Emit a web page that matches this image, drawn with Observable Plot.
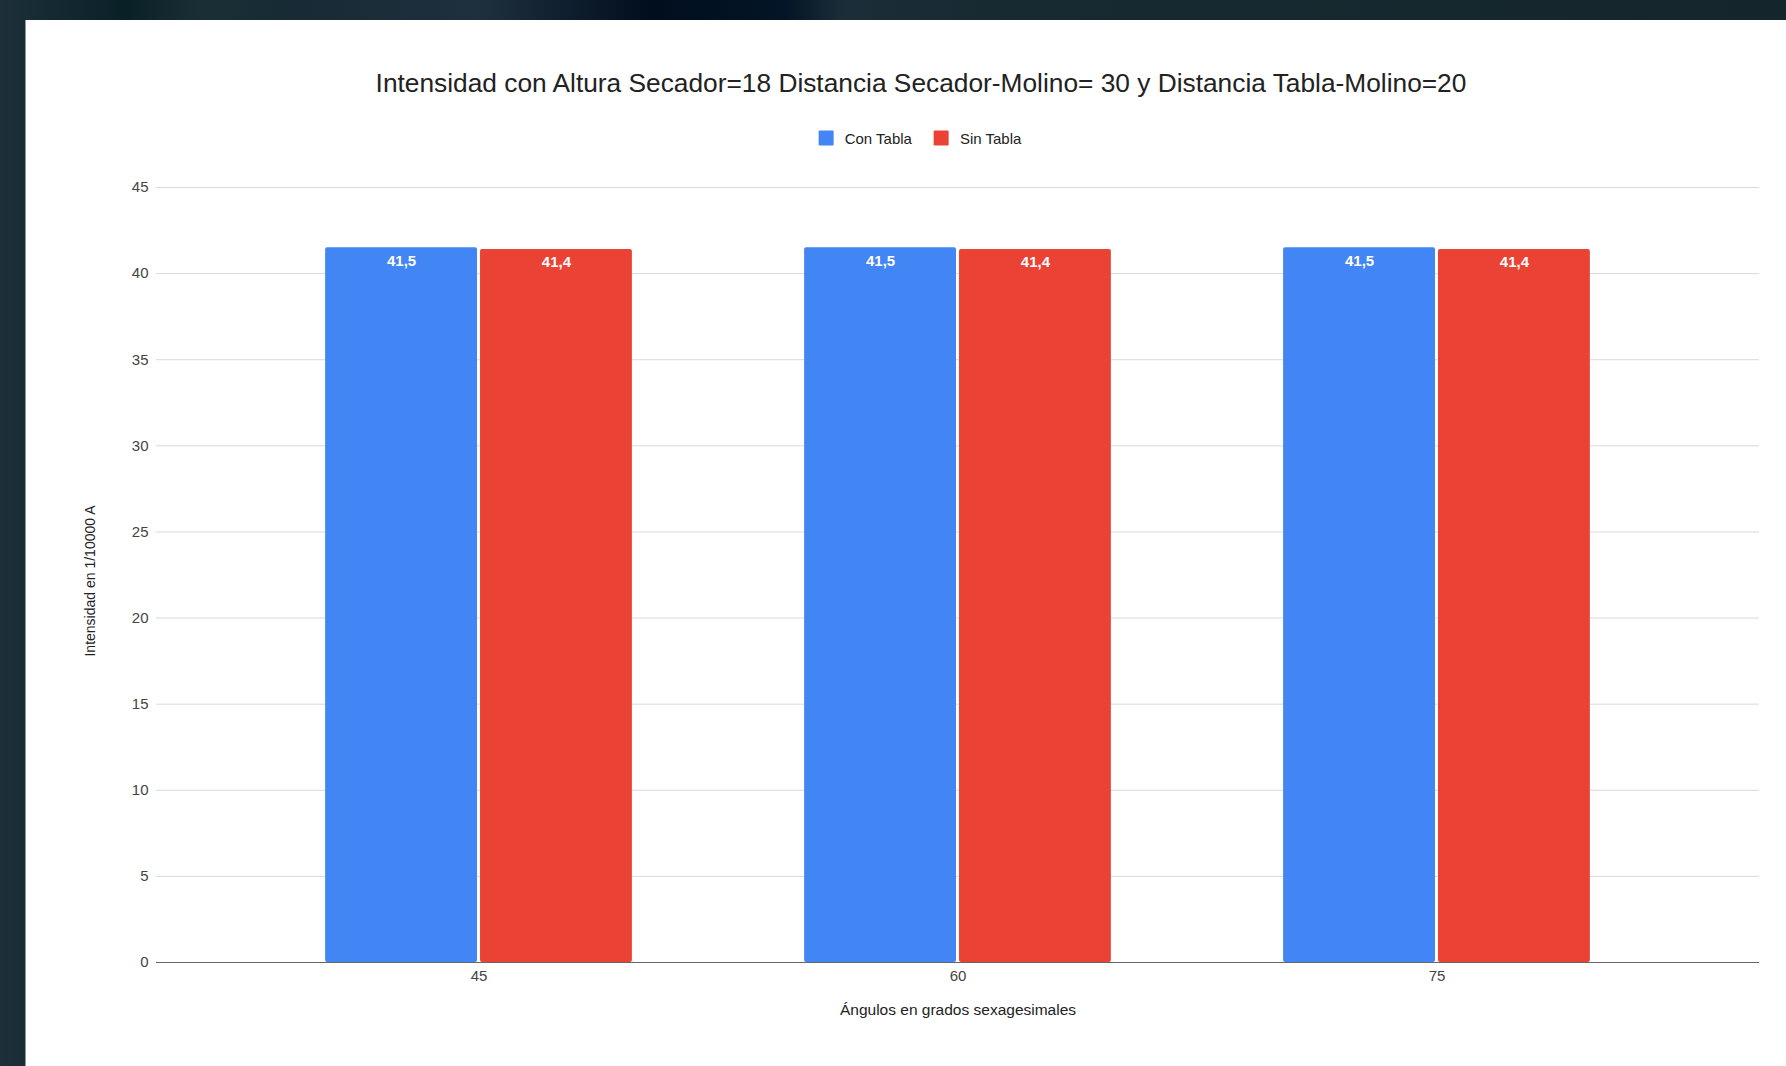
<!DOCTYPE html>
<html lang="es">
<head>
<meta charset="utf-8">
<script src="https://cdn.jsdelivr.net/npm/d3@7"></script>
<script src="https://cdn.jsdelivr.net/npm/@observablehq/plot@0.6"></script>
<style>
  html, body { margin: 0; padding: 0; }
  body {
    width: 1786px; height: 1066px; overflow: hidden; position: relative;
    font-family: "Liberation Sans", Arial, sans-serif;
    background: linear-gradient(90deg,
      #1d3039 0px, #0a2027 125px, #1a2f35 200px, #172a35 300px, #1e303e 478px,
      #0a1828 600px, #010e1e 650px, #031526 785px, #1b2d38 843px,
      #172a31 1000px, #14262c 1786px);
  }
  #card {
    position: absolute; left: 25px; top: 20px; right: 0; bottom: 0;
    background: #ffffff; border-left: 1px solid #8c9ba0;
  }
  #title {
    position: absolute; left: 921px; top: 83px; transform: translate(-50%, -50%);
    white-space: nowrap; font-size: 26.3px; color: #222;
  }
  #legend {
    position: absolute; left: 920px; top: 138px; transform: translate(-50%, -50%);
    display: flex; align-items: center; white-space: nowrap; font-size: 15px; color: #222;
  }
  #legend .item { display: flex; align-items: center; }
  #legend .item + .item { margin-left: 22px; }
  #legend .sw { width: 15px; height: 15px; margin-right: 11px; border-radius: 1px; }
  #chart { position: absolute; left: 0; top: 160px; }
</style>
</head>
<body>
<div id="card"></div>
<div id="title"></div>
<div id="legend"></div>
<div id="chart"></div>
<script>
// Intensity readings per dryer angle, with and without the board
const angulos = [45, 60, 75];
const conTabla = [41.5, 41.5, 41.5];
const sinTabla = [41.4, 41.4, 41.4];
const series = ["Con Tabla", "Sin Tabla"];
const colores = ["#4285F4", "#EA4335"];
const yTicks = [0, 5, 10, 15, 20, 25, 30, 35, 40, 45];

const titulo = "Intensidad con Altura Secador=18 Distancia Secador-Molino= 30 y Distancia Tabla-Molino=20";
const tituloY = "Intensidad en 1/10000 A";
const tituloX = "Ángulos en grados sexagesimales";

// One row per bar; lado = -1 puts the bar left of the angle, +1 to the right
const filas = [];
angulos.forEach((a, i) => {
  filas.push({angulo: a, serie: series[0], valor: conTabla[i], lado: -1});
  filas.push({angulo: a, serie: series[1], valor: sinTabla[i], lado: 1});
});

const coma = d3.formatLocale({decimal: ",", thousands: ".", grouping: [3], currency: ["", "€"]}).format(".1f");

// Half of a group's width, in angle units
const mitad = 4.85;

document.getElementById("title").textContent = titulo;
const leyenda = document.getElementById("legend");
series.forEach((s, i) => {
  const it = document.createElement("div");
  it.className = "item";
  const sw = document.createElement("div");
  sw.className = "sw";
  sw.style.background = colores[i];
  const tx = document.createElement("span");
  tx.textContent = s;
  it.append(sw, tx);
  leyenda.append(it);
});

const chart = Plot.plot({
  width: 1786,
  height: 906,
  marginLeft: 156,
  marginRight: 27,
  marginTop: 27,
  marginBottom: 104,
  style: {background: "transparent", fontFamily: "'Liberation Sans', Arial, sans-serif", fontSize: "15px", color: "#444"},
  x: {type: "linear", domain: [34.9, 85.1]},
  y: {domain: [0, 45]},
  color: {domain: series, range: colores},
  marks: [
    Plot.ruleY(yTicks.filter(t => t > 0), {stroke: "#d9d9d9", strokeWidth: 1}),
    Plot.rectY(filas, {
      x1: d => d.lado < 0 ? d.angulo - mitad : d.angulo,
      x2: d => d.lado < 0 ? d.angulo : d.angulo + mitad,
      y1: 0,
      y2: "valor",
      fill: "serie",
      insetLeft: 1.5,
      insetRight: 1.5,
      rx: 2
    }),
    Plot.ruleY([0], {stroke: "#666", strokeWidth: 1.2}),
    Plot.text(filas, {
      x: d => d.angulo + d.lado * mitad / 2,
      y: "valor",
      dy: 13,
      text: d => coma(d.valor),
      fill: "white",
      fontWeight: "bold",
      fontSize: 15,
      textAnchor: "middle",
      lineAnchor: "middle"
    }),
    Plot.axisY({ticks: yTicks, tickSize: 0, tickPadding: 8, label: null, tickFormat: d => String(d), fill: "#444"}),
    Plot.axisX({ticks: angulos, tickSize: 0, tickPadding: 8, label: null, tickFormat: d => String(d), fill: "#444"}),
    Plot.text([tituloY], {frameAnchor: "left", dx: -66, dy: 6, rotate: -90, fontSize: 14, fill: "#222", textAnchor: "middle", lineAnchor: "middle"}),
    Plot.text([tituloX], {frameAnchor: "bottom", dy: 48, fontSize: 15.5, fill: "#222", textAnchor: "middle", lineAnchor: "middle"})
  ]
});
document.getElementById("chart").append(chart);
</script>
</body>
</html>
